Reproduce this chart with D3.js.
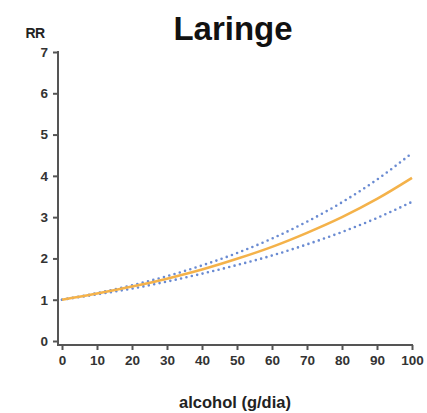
<!DOCTYPE html>
<html><head><meta charset="utf-8">
<script src="https://cdn.jsdelivr.net/npm/d3@7"></script>
<style>html,body{margin:0;padding:0;background:#fff}svg{display:block}</style>
</head><body>
<script>
const alcohol = [0,10,20,30,40,50,60,70,80,90,100];
const rr      = [1.00,1.15,1.32,1.51,1.73,1.99,2.28,2.62,3.00,3.44,3.95];
const rrUpper = [1.00,1.16,1.35,1.57,1.83,2.13,2.48,2.89,3.36,3.91,4.55];
const rrLower = [1.00,1.13,1.27,1.44,1.63,1.84,2.07,2.34,2.64,2.98,3.37];
const xTicks = [0,10,20,30,40,50,60,70,80,90,100];
const yTicks = [0,1,2,3,4,5,6,7];

const W=427,H=413;
const svg=d3.select("body").append("svg").attr("width",W).attr("height",H);
const x=d3.scaleLinear().domain([0,100]).range([62,412]);
const y=d3.scaleLinear().domain([0,7]).range([341,52]);
const font="Liberation Sans, Arial, sans-serif";
const axisColor="#555";

// y axis
const ya=svg.append("g").attr("transform","translate(58,0)")
  .call(d3.axisLeft(y).tickValues(yTicks).tickFormat(d3.format("d")).tickSize(5).tickSizeOuter(0).tickPadding(5));
ya.select(".domain").remove();
svg.append("line").attr("x1",58).attr("x2",58).attr("y1",y(7)-1).attr("y2",346)
  .attr("stroke",axisColor).attr("stroke-width",2);
// x axis
const xa=svg.append("g").attr("transform","translate(0,345)")
  .call(d3.axisBottom(x).tickValues(xTicks).tickFormat(d3.format("d")).tickSize(5).tickSizeOuter(0).tickPadding(5));
xa.select(".domain").remove();
svg.append("line").attr("x1",57).attr("x2",x(100)+1).attr("y1",345).attr("y2",345)
  .attr("stroke",axisColor).attr("stroke-width",2);
[ya,xa].forEach(g=>{
  g.selectAll(".tick line").attr("stroke",axisColor).attr("stroke-width",2);
  g.selectAll(".tick text").attr("font-family",font).attr("font-weight","bold")
   .attr("font-size",13.5).attr("fill","#333");
});

const line=(vals)=>d3.line().curve(d3.curveMonotoneX).x((d,i)=>x(alcohol[i])).y(d=>y(d))(vals);
svg.append("path").attr("d",line(rrUpper)).attr("fill","none").attr("stroke","#6a8bd2")
  .attr("stroke-width",2.6).attr("stroke-linecap","round").attr("stroke-dasharray","0,5.5");
svg.append("path").attr("d",line(rrLower)).attr("fill","none").attr("stroke","#6a8bd2")
  .attr("stroke-width",2.6).attr("stroke-linecap","round").attr("stroke-dasharray","0,5.5");
svg.append("path").attr("d",line(rr)).attr("fill","none").attr("stroke","#f4b24a")
  .attr("stroke-width",2.6);

svg.append("text").attr("x",233).attr("y",40).attr("text-anchor","middle")
  .attr("font-family",font).attr("font-weight","bold").attr("font-size",33).attr("fill","#111").text("Laringe");
svg.append("text").attr("x",35).attr("y",38).attr("text-anchor","middle")
  .attr("font-family",font).attr("font-weight","bold").attr("font-size",14).attr("fill","#222")
  .attr("letter-spacing",-0.5).text("RR");
svg.append("text").attr("x",235).attr("y",408).attr("text-anchor","middle")
  .attr("font-family",font).attr("font-weight","bold").attr("font-size",16.5).attr("fill","#222").text("alcohol (g/dia)");
</script>
</body></html>
